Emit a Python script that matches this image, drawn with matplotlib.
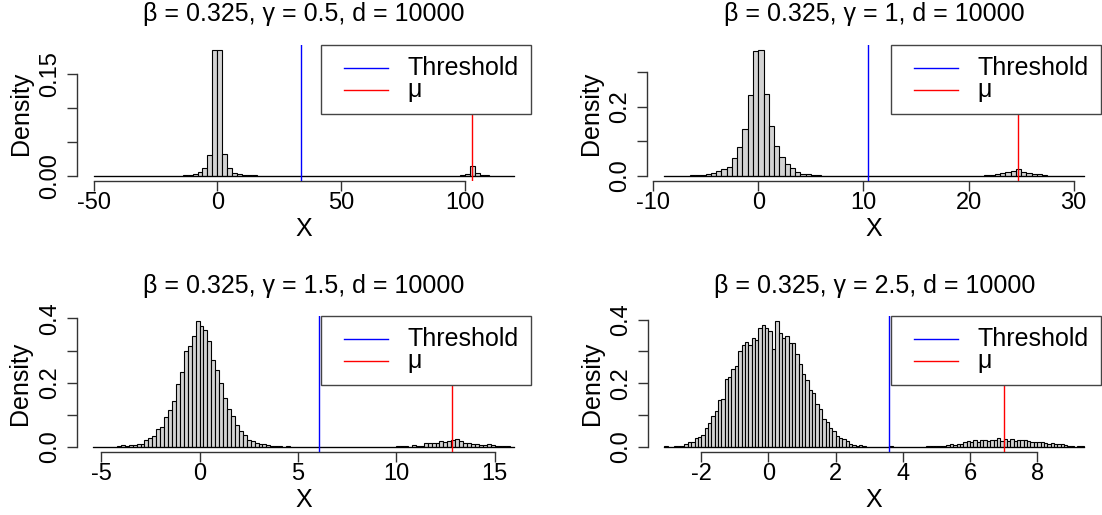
import numpy as np
import matplotlib
matplotlib.use("Agg")
import matplotlib.pyplot as plt
from matplotlib.patches import Rectangle

plt.rcParams['font.family'] = ['Liberation Sans', 'DejaVu Sans']
plt.rcParams['axes.unicode_minus'] = False

W, H, DPI = 1102, 515, 100

# ---------------- DATA ----------------
titles = ["β = 0.325, γ = 0.5, d = 10000",
          "β = 0.325, γ = 1, d = 10000",
          "β = 0.325, γ = 1.5, d = 10000",
          "β = 0.325, γ = 2.5, d = 10000"]

# breaks: (first, last, width)
p1_breaks = (-50, 120, 2)
p1_left_start = -16
p1_left = [0.0005, 0.001, 0.0015, 0.0034, 0.0053, 0.012, 0.0305, 0.184, 0.1845,
           0.032, 0.011, 0.0048, 0.0029, 0.0015, 0.001, 0.0008, 0.0005]
p1_right_start = 96
p1_right = [0.0005, 0.0015, 0.0034, 0.0145, 0.0044, 0.001, 0.0008, 0.0005]
p1_threshold = 33.9
p1_mu = 103.0
p1_xticks = [-50, 0, 50, 100]
p1_yticks = [0, 0.05, 0.10, 0.15]
p1_ylabels = ["0.00", "", "", "0.15"]

p2_breaks = (-9, 31, 0.5)
p2_left_start = -7.0
p2_left = [0.001, 0.002, 0.002, 0.0038, 0.0048, 0.0077, 0.0144, 0.021, 0.026, 0.053,
           0.085, 0.135, 0.233, 0.3625, 0.364, 0.238, 0.144, 0.087, 0.054, 0.034,
           0.022, 0.011, 0.007, 0.005, 0.003, 0.002]
p2_right_start = 21.5
p2_right = [0.002, 0.002, 0.005, 0.008, 0.011, 0.015, 0.021, 0.012, 0.009, 0.006,
            0.005, 0.002]
p2_threshold = 10.4
p2_mu = 24.7
p2_xticks = [-10, 0, 10, 20, 30]
p2_yticks = [0, 0.1, 0.2, 0.3]
p2_ylabels = ["0.0", "", "0.2", ""]

p3_breaks = (-5.4, 16.0, 0.2)
p3_left_start = -4.2
p3_left = [0.002, 0.005, 0.002, 0.004, 0.004, 0.009, 0.009, 0.020, 0.026, 0.034,
           0.054, 0.061, 0.092, 0.115, 0.144, 0.194, 0.232, 0.298, 0.313, 0.346,
           0.392, 0.375, 0.363, 0.330, 0.271, 0.238, 0.198, 0.153, 0.117, 0.096,
           0.067, 0.049, 0.037, 0.022, 0.019, 0.011, 0.009, 0.007, 0.004, 0.002,
           0.001, 0.001, 0.0, 0.002]
p3_right_start = 10.0
p3_right = [0.001, 0.001, 0.001, 0.0, 0.004, 0.001, 0.001, 0.010, 0.010, 0.011,
            0.012, 0.018, 0.015, 0.018, 0.021, 0.024, 0.017, 0.011, 0.010, 0.009,
            0.007, 0.005, 0.005, 0.008, 0.004, 0.002, 0.001, 0.001, 0.001]
p3_threshold = 6.09
p3_mu = 12.86
p3_xticks = [-5, 0, 5, 10, 15]
p3_yticks = [0, 0.1, 0.2, 0.3, 0.4]
p3_ylabels = ["0.0", "", "0.2", "", "0.4"]

p4_breaks = (-3.1, 9.4, 0.1)
p4_left_start = -3.1
p4_left = [0.002, 0.0, 0.0, 0.002, 0.002, 0.002, 0.009, 0.015, 0.015, 0.027,
           0.031, 0.037, 0.058, 0.074, 0.097, 0.114, 0.146, 0.149, 0.213, 0.220,
           0.246, 0.254, 0.302, 0.321, 0.330, 0.319, 0.342, 0.336, 0.375, 0.383,
           0.374, 0.366, 0.307, 0.396, 0.358, 0.342, 0.348, 0.327, 0.326, 0.292,
           0.262, 0.230, 0.210, 0.178, 0.168, 0.136, 0.119, 0.086, 0.079, 0.058,
           0.048, 0.035, 0.028, 0.025, 0.018, 0.009, 0.005, 0.001, 0.005, 0.001]
p4_mid_start = 3.6
p4_mid = [0.002]
p4_right_start = 4.7
p4_right = [0.002, 0.002, 0.002, 0.003, 0.003, 0.003, 0.005, 0.007, 0.005, 0.009,
            0.010, 0.015, 0.018, 0.015, 0.020, 0.016, 0.020, 0.022, 0.018, 0.021,
            0.020, 0.026, 0.018, 0.023, 0.018, 0.024, 0.018, 0.022, 0.022, 0.020,
            0.018, 0.016, 0.014, 0.014, 0.016, 0.011, 0.010, 0.011, 0.009, 0.007,
            0.007, 0.005, 0.002, 0.001, 0.0, 0.001, 0.001]
p4_threshold = 3.58
p4_mu = 7.01
p4_xticks = [-2, 0, 2, 4, 6, 8]
p4_yticks = [0, 0.1, 0.2, 0.3, 0.4]
p4_ylabels = ["0.0", "", "0.2", "", "0.4"]

panels = [
    (p1_breaks, [(p1_left_start, p1_left), (p1_right_start, p1_right)],
     p1_threshold, p1_mu, p1_xticks, p1_yticks, p1_ylabels),
    (p2_breaks, [(p2_left_start, p2_left), (p2_right_start, p2_right)],
     p2_threshold, p2_mu, p2_xticks, p2_yticks, p2_ylabels),
    (p3_breaks, [(p3_left_start, p3_left), (p3_right_start, p3_right)],
     p3_threshold, p3_mu, p3_xticks, p3_yticks, p3_ylabels),
    (p4_breaks, [(p4_left_start, p4_left), (p4_mid_start, p4_mid), (p4_right_start, p4_right)],
     p4_threshold, p4_mu, p4_xticks, p4_yticks, p4_ylabels),
]

# plot regions in pixels: left, top, right, bottom
boxes = [(76.8, 45, 531, 181), (646.8, 45, 1101, 181),
         (76.5, 316, 531, 451.7), (647.5, 316, 1101, 451.7)]

AXCOL = '#333333'
FS = 17


def build(breaks, clusters):
    lo, hi, w = breaks
    n = int(round((hi - lo) / w))
    edges = lo + w * np.arange(n + 1)
    dens = np.zeros(n)
    for start, vals in clusters:
        i = int(round((start - lo) / w))
        dens[i:i + len(vals)] = vals
    return edges, dens, w


fig = plt.figure(figsize=(W / DPI, H / DPI), dpi=DPI)

for k, (breaks, clusters, thr, mu, xt, yt, ylab) in enumerate(panels):
    l, t, r, b = boxes[k]
    ax = fig.add_axes([l / W, 1 - b / H, (r - l) / W, (b - t) / H])
    edges, dens, w = build(breaks, clusters)

    ax.bar(edges[:-1], dens, width=w, align='edge', color='#D3D3D3',
           edgecolor='black', linewidth=0.8, zorder=2)
    ax.plot([edges[0], edges[-1]], [0, 0], color='black', lw=0.9, zorder=2)

    span = edges[-1] - edges[0]
    ax.set_xlim(edges[0] - 0.04 * span, edges[-1] + 0.04 * span)
    ymax = dens.max()
    ax.set_ylim(-0.04 * ymax, 1.04 * ymax)

    ax.axvline(thr, color='blue', lw=1, zorder=3)
    ax.axvline(mu, color='red', lw=1, zorder=3)

    for s in ['top', 'right']:
        ax.spines[s].set_visible(False)
    for s in ['left', 'bottom']:
        ax.spines[s].set_color(AXCOL)
        ax.spines[s].set_linewidth(1)
    ax.spines['left'].set_bounds(yt[0], yt[-1])
    ax.spines['bottom'].set_bounds(xt[0], xt[-1])

    ax.set_xticks(xt)
    ax.set_xticklabels([str(v) for v in xt])
    ax.set_yticks(yt)
    ax.set_yticklabels(ylab, rotation=90, va='center')
    ax.tick_params(direction='out', length=7, width=1, color=AXCOL,
                   labelsize=FS, labelcolor='black')
    ax.tick_params(axis='x', pad=1)
    ax.tick_params(axis='y', pad=4)

    # legend box (top right of the plot region)
    ax.add_patch(Rectangle((0.537, 0.4926), 0.463, 0.5074, transform=ax.transAxes,
                           facecolor='white', edgecolor='#444444', lw=1,
                           zorder=5, clip_on=False))
    ax.plot([0.588, 0.685], [0.829, 0.829], transform=ax.transAxes,
            color='blue', lw=1, zorder=6, clip_on=False)
    ax.plot([0.588, 0.685], [0.669, 0.669], transform=ax.transAxes,
            color='red', lw=1, zorder=6, clip_on=False)
    ax.text(0.728, 0.829, "Threshold", transform=ax.transAxes, va='center',
            ha='left', fontsize=18, zorder=6)
    ax.text(0.728, 0.669, "μ", transform=ax.transAxes, va='center',
            ha='left', fontsize=18, zorder=6)

    # title and axis labels
    cx = (l + r) / 2 / W
    fig.text(cx, 1 - (t - 30.5) / H, titles[k], ha='center', va='center', fontsize=18)
    fig.text(cx, 1 - (b + 48.5) / H, "X", ha='center', va='center', fontsize=18)
    fig.text((l - 56) / W, 1 - (t + b) / 2 / H, "Density", rotation=90,
             ha='center', va='center', fontsize=18)

fig.savefig("out.png", dpi=DPI)
